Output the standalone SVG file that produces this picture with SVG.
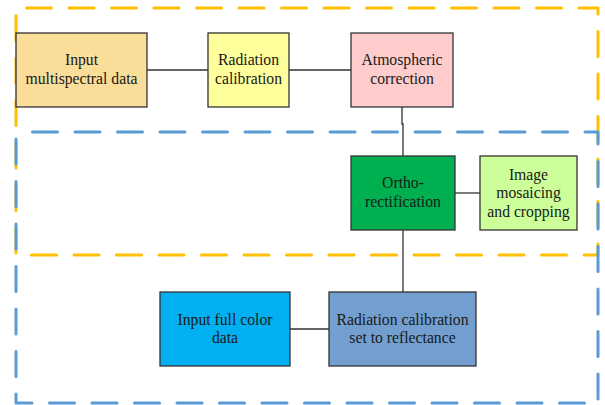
<svg xmlns="http://www.w3.org/2000/svg" width="605" height="405" viewBox="0 0 605 405">
  <style>
    .box { stroke: #333333; stroke-width: 1.3; }
    .lbl { font-family: "Liberation Serif", "Times New Roman", serif; font-size: 15.7px; fill: #1a1a1a; text-anchor: middle; }
    .frame { fill: none; stroke-width: 3; stroke-linecap: round; stroke-linejoin: round; stroke-dasharray: 25 17.5; }
    .link { fill: none; stroke: #333333; stroke-width: 1.3; }
  </style>
  <rect width="605" height="405" fill="#ffffff"/>

  <!-- dashed region frames -->
  <g id="frames">
    <path class="frame" stroke="#FFC000" stroke-dashoffset="-10.5" d="M16 8 H598 V255 H16 Z"/>
    <path class="frame" stroke="#5B9BD5" stroke-dashoffset="-16.5" d="M16 132 H598 V403 H16 Z"/>
  </g>

  <!-- connectors -->
  <g id="connectors">
    <path class="link" d="M147 70 H208"/>
    <path class="link" d="M289 70 H351"/>
    <path class="link" d="M402 107 V124 H403 V156"/>
    <path class="link" d="M455 193 H480"/>
    <path class="link" d="M403 230 V292"/>
    <path class="link" d="M290 329 H329"/>
  </g>

  <g id="input-multispectral">
    <rect class="box" x="16" y="33" width="131" height="74" fill="#F9DD98"/>
    <text class="lbl" x="81.5" y="65">Input</text>
    <text class="lbl" x="81.5" y="84">multispectral data</text>
  </g>

  <g id="radiation-calibration">
    <rect class="box" x="208" y="33" width="81" height="74" fill="#FFFF9C"/>
    <text class="lbl" x="248.5" y="65">Radiation</text>
    <text class="lbl" x="248.5" y="84">calibration</text>
  </g>

  <g id="atmospheric-correction">
    <rect class="box" x="351" y="33" width="102" height="74" fill="#FFCCCC"/>
    <text class="lbl" x="402" y="65">Atmospheric</text>
    <text class="lbl" x="402" y="84">correction</text>
  </g>

  <g id="ortho-rectification">
    <rect class="box" x="351" y="156" width="104" height="74" fill="#00B050"/>
    <text class="lbl" x="403" y="188">Ortho-</text>
    <text class="lbl" x="403" y="207">rectification</text>
  </g>

  <g id="image-mosaicing">
    <rect class="box" x="480" y="156" width="97" height="74" fill="#CCFF99"/>
    <text class="lbl" x="528.5" y="179.5">Image</text>
    <text class="lbl" x="528.5" y="198">mosaicing</text>
    <text class="lbl" x="528.5" y="216.5">and cropping</text>
  </g>

  <g id="input-full-color">
    <rect class="box" x="160" y="292" width="130" height="74" fill="#00B0F0"/>
    <text class="lbl" x="225" y="325">Input full color</text>
    <text class="lbl" x="225" y="343">data</text>
  </g>

  <g id="radiation-reflectance">
    <rect class="box" x="329" y="292" width="147" height="74" fill="#729FCF"/>
    <text class="lbl" x="402.5" y="325">Radiation calibration</text>
    <text class="lbl" x="402.5" y="343">set to reflectance</text>
  </g>
</svg>
